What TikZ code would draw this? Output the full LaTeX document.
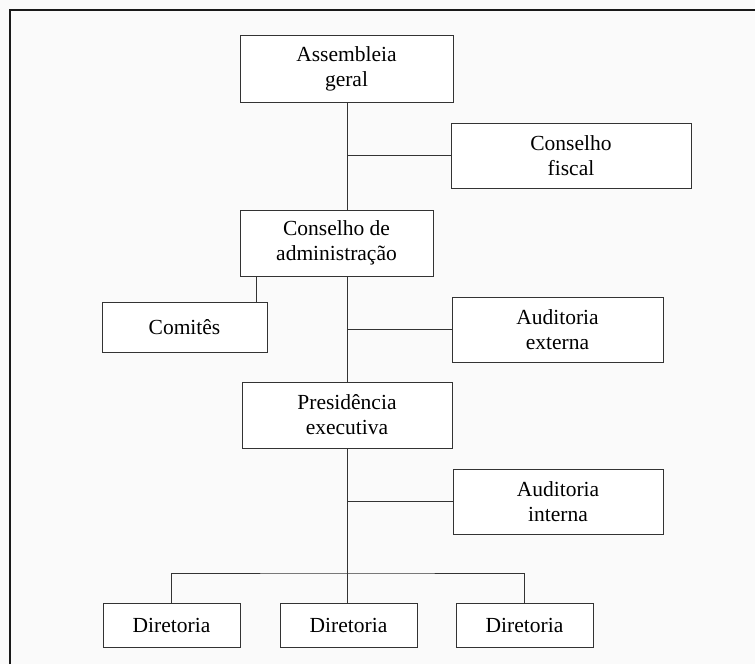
\documentclass[tikz,border=0pt]{standalone}
\usepackage{fontspec}
\setmainfont{Liberation Serif}
\begin{document}
\begin{tikzpicture}[x=1pt,y=-1pt,
  orgbox/.style={draw=black!80, line width=0.9pt, fill=white, inner sep=0pt,
    align=center, font=\fontsize{21.5}{25}\selectfont},
  link/.style={draw=black!80, line width=0.9pt},
  frame/.style={draw=black!90, line width=1.8pt}]
  % page and background
  \fill[black!2] (0,0) rectangle (755,664);
  \useasboundingbox (0,0) rectangle (755,664);
  \draw[frame] (10,664) -- (10,10) -- (755,10);

  % boxes
  \node[orgbox, minimum width=213pt, minimum height=67pt] (ag) at (346.5,68.5) {Assembleia\\geral};
  \node[orgbox, minimum width=240pt, minimum height=65pt] (cf) at (571,155.5) {Conselho\\fiscal};
  \node[orgbox, minimum width=193pt, minimum height=66pt] (ca) at (336.5,243) {Conselho de\\administração};
  \node[orgbox, minimum width=165pt, minimum height=50pt] (cm) at (184.5,327) {Comitês};
  \node[orgbox, minimum width=211pt, minimum height=65pt] (ae) at (557.5,329.5) {Auditoria\\externa};
  \node[orgbox, minimum width=210pt, minimum height=66pt] (pe) at (347,415) {Presidência\\executiva};
  \node[orgbox, minimum width=210pt, minimum height=65pt] (ai) at (558,501.5) {Auditoria\\interna};
  \node[orgbox, minimum width=137pt, minimum height=44pt] (d1) at (171.5,625) {Diretoria};
  \node[orgbox, minimum width=137pt, minimum height=44pt] (d2) at (348.5,625) {Diretoria};
  \node[orgbox, minimum width=137pt, minimum height=44pt] (d3) at (524.5,625) {Diretoria};

  % guide coordinates for the trunk, the committee drop and the bottom bus
  \coordinate (sp) at (347,0);
  \coordinate (cmx) at (256,0);
  \coordinate (bus) at (347,573);

  % trunk
  \draw[link] (ag.south -| sp) -- (ca.north -| sp);
  \draw[link] (ca.south -| sp) -- (pe.north -| sp);
  \draw[link] (pe.south -| sp) -- (d2.north -| sp);
  % side branches
  \draw[link] (sp |- cf.west) -- (cf.west);
  \draw[link] (sp |- ae.west) -- (ae.west);
  \draw[link] (sp |- ai.west) -- (ai.west);
  \draw[link] (ca.south -| cmx) -- (cm.north -| cmx);
  % bus to the three directorates
  \draw[link] (d1.north) |- (bus) -| (d3.north);
\end{tikzpicture}
\end{document}
